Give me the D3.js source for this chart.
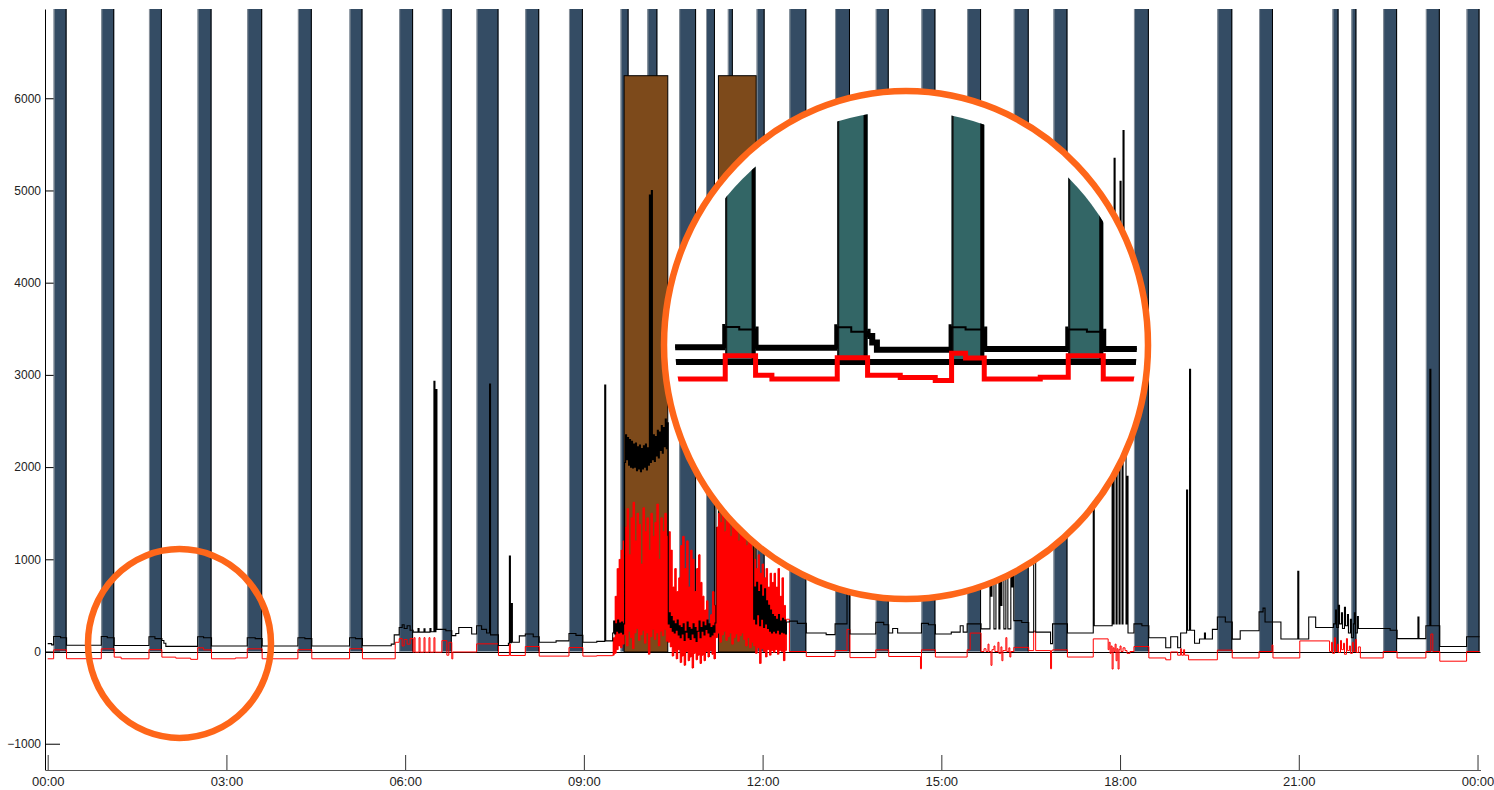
<!DOCTYPE html>
<head>
  <meta charset="utf-8" />
  <script src="https://cdn.jsdelivr.net/npm/d3@7"></script>
  <style>
    body { margin: 0; background: #fff; }
    svg { display: block; }
    text { font-family: "Liberation Sans", Arial, sans-serif; fill: #222; }
  </style>
</head>
<body>
  <svg width="1494" height="790"></svg>
  <script>
    // x in minutes of the day, y in watts
    const hourTicks = [0, 180, 360, 540, 720, 900, 1080, 1260, 1440];
    const hourLabels = ["00:00", "03:00", "06:00", "09:00", "12:00", "15:00", "18:00", "21:00", "00:00"];
    const powerTicks = [-1000, 0, 1000, 2000, 3000, 4000, 5000, 6000];

    // heat pump / fridge cycles (dark bars, full height)
    const cycleStart = [6, 54, 102, 151, 201, 252, 304, 354, 397, 432, 481, 525, 577, 604, 636, 663, 685, 714, 747,
      793, 834, 880, 926, 973, 1013, 1094, 1178, 1220, 1294, 1313, 1345, 1388, 1429];
    const cycleEnd = [19, 67, 115, 165, 216, 266, 317, 368, 407, 454, 495, 539, 585, 614, 653, 672, 690, 722, 764,
      808, 847, 894, 940, 988, 1027, 1109, 1193, 1234, 1300, 1318, 1359, 1402, 1442];

    // oven (brown bars)
    const ovenStart = [580, 675];
    const ovenEnd = [624, 713];
    const ovenLevel = 6250;

    // total consumption (black), [minute, W], step after
    const totalBase = [
      [0, 85], [4, 72], [6, 162], [13, 150], [19, 68],
      [54, 162], [60, 150], [67, 66],
      [102, 160], [108, 140], [115, 120], [117, 90], [119, 56],
      [151, 160], [157, 150], [165, 60],
      [201, 150], [209, 140], [216, 60],
      [252, 150], [259, 140], [266, 60],
      [304, 150], [310, 140], [317, 62],
      [346, 80], [349, 180], [354, 260], [357, 290], [359, 250], [362, 280], [365, 230], [368, 210],
      [373, 250], [374, 210], [379, 245], [380, 210], [385, 250], [386, 215],
      [389, 2930], [390, 215], [391, 2840], [392, 240],
      [401, 225], [407, 172], [411, 195], [414, 260], [427, 190],
      [432, 280], [437, 240], [442, 200], [445, 2900], [446, 180], [454, 65],
      [464, 90], [465, 1035], [466, 95], [467, 520], [468, 100], [475, 170],
      [481, 190], [489, 160], [495, 100], [512, 115],
      [525, 195], [532, 175], [539, 100], [553, 110], [561, 2890], [562, 115],
      [747, 330], [755, 305], [764, 200], [784, 183],
      [793, 300], [805, 1200], [808, 190],
      [834, 316], [842, 290], [847, 200], [851, 250], [856, 200],
      [880, 305], [887, 290], [894, 190], [910, 210], [919, 280], [922, 210],
      [926, 300], [940, 245],
      [949, 1900], [950, 600], [951, 2100], [953, 245], [955, 2300], [956, 900], [957, 2000], [958, 245],
      [959, 1700], [960, 500], [961, 2400], [963, 245], [965, 2600], [966, 800], [967, 245],
      [970, 2000], [971, 700], [972, 1800],
      [973, 335], [981, 315], [988, 210], [993, 1500], [995, 210], [1010, 85], [1012, 300], [1027, 200],
      [1053, 2750], [1054, 280],
      [1072, 2600], [1073, 300], [1074, 5350], [1075, 2300], [1076, 300], [1077, 2800], [1078, 2100], [1079, 300],
      [1080, 5100], [1081, 2600], [1082, 300], [1083, 5650], [1084, 2200], [1085, 2400], [1086, 300], [1087, 1900],
      [1088, 200],
      [1094, 300], [1102, 280], [1109, 150], [1126, 40], [1131, 160], [1138, 40], [1141, 200], [1147, 1750],
      [1148, 230], [1150, 3060], [1151, 230], [1155, 90], [1160, 135], [1165, 200], [1166, 135], [1173, 240],
      [1178, 375], [1186, 320], [1193, 134], [1201, 225],
      [1220, 430], [1224, 470], [1226, 320], [1242, 135], [1259, 870], [1260, 135], [1270, 375], [1277, 260],
      [1292, 260], [1295, 300], [1297, 450], [1298, 260], [1300, 500], [1301, 300], [1303, 420], [1304, 250],
      [1306, 480], [1307, 280], [1309, 400], [1310, 200], [1312, 350], [1313, 150], [1315, 300], [1316, 420],
      [1317, 200], [1319, 380], [1320, 250],
      [1345, 250], [1352, 230], [1359, 140], [1380, 375], [1381, 140],
      [1388, 280], [1392, 3060], [1393, 280], [1402, 55], [1429, 160], [1442, 160]
    ];

    // grid balance (red), [minute, W], step after
    const netBase = [
      [0, -79], [6, 18], [19, -78], [54, 29], [67, -61], [74, -79], [102, 20], [115, -61], [129, -72], [144, -85],
      [151, 40], [157, 18], [165, -79], [189, -70], [201, 29], [216, -79], [252, 20], [266, -79], [304, 30], [317, -79],
      [350, 100], [354, 140], [357, 60], [359, 130], [362, 80], [365, 140], [368, -7],
      [369, 150], [370, -7], [374, 150], [375, -7], [379, 150], [380, -7], [384, 150], [385, -7], [389, 150], [390, -7],
      [397, 118], [402, -40], [404, 100], [407, -80], [408, -5],
      [432, 83], [454, -43], [465, 80], [466, -43],
      [481, 54], [495, -50], [525, 43], [539, -50], [553, -45],
      [747, 0], [764, -54], [793, 10], [805, 240], [808, -66], [834, 18], [847, -54], [879, -187], [880, 18],
      [894, -60], [926, 18], [929, 200], [940, 0],
      [943, 30], [945, 0], [947, 80], [948, 0], [950, -150], [951, 20], [953, 60], [954, 0], [957, 100], [958, -20],
      [960, 50], [961, -100], [962, 10], [965, 150], [966, 0], [968, 40], [969, -60], [970, 0],
      [973, 45], [988, 10], [993, 220], [995, 10], [1010, -187], [1011, 10], [1012, 18], [1027, -60], [1053, 137],
      [1068, 20], [1069, 100], [1070, -20], [1071, 60], [1072, -190], [1073, 40], [1074, 0], [1075, 80], [1076, -100],
      [1077, 30], [1078, -190], [1079, 20], [1080, 60], [1081, 0], [1083, 40], [1085, 10], [1087, -20], [1090, 0],
      [1094, 54], [1109, -70], [1126, -90], [1131, -5], [1138, -40], [1141, 30], [1142, -40], [1144, 20], [1145, -40],
      [1149, -90], [1178, 15], [1193, -70], [1220, 0], [1233, 70], [1234, -70], [1261, 115],
      [1291, 0], [1293, 100], [1294, -20], [1296, 150], [1297, 0], [1299, 80], [1300, -10], [1302, 120], [1303, 20],
      [1305, 90], [1306, -30], [1308, 140], [1309, 10], [1311, 60], [1312, -20], [1314, 100], [1315, 0], [1317, 130],
      [1318, -10], [1320, 50], [1322, -70],
      [1345, 0], [1359, -70], [1388, 0], [1393, 190], [1395, 0], [1402, -105], [1429, 0], [1442, 0]
    ];

    // busy period 09:29-12:24: min/max of each 2 minute bucket
    const busyStart = 569;
    const busyStep = 2;
    const netBusyHi = [150, 600, 900, 1000, 1100, 1200,
      1350, 1550, 1050, 1450, 1620, 1200, 1500, 1380, 950, 1560, 1300, 1450, 1100, 1500, 1250, 1400, 1600, 1000, 1450, 1300, 1500, 1250,
      1300, 1100, 700, 900, 650, 800,
      1150, 1250, 900, 1200, 700, 1100, 1000, 650, 900, 1050, 750,
      600, 450, 550, 300, 400, 650, 500,
      1350, 1500, 1400, 1550, 1300, 1450, 1500, 1250, 1450, 1350, 1500, 1200, 1400, 1300, 1450, 1150, 1300, 1200, 1100,
      1000, 900, 1050, 850, 950, 800, 900, 700, 850, 750,
      850, 700, 900, 600, 800, 500, 350];
    const netBusyLo = [-40, -20, 20, 60, 40, 80,
      180, 60, 220, 150, 30, 200, 250, 120, 180, 230, 90, 200, -30, 160, 240, 130, 200, 60, 220, 170, 240, 110,
      100, 50, -50, 0, -80, 20,
      -120, -50, -150, 0, -100, -60, -180, -20, -90, -40, -130,
      -40, -100, 0, -60, 10, -30, -80,
      150, 200, 100, 180, 220, 120, 160, 200, 80, 150, 190, 110, 170, 200, 130, 60, 150, 40, 100,
      60, -20, 40, -130, 30, 0, -60, 20, -40, 10,
      -10, 20, -30, 10, 0, -100, 10];
    const totalBusyHi = [330, 300, 340, 310, 320, 300,
      2350, 2320, 2300, 2280, 2250, 2260, 2220, 2240, 2200, 2230, 2250, 2210, 4950, 5000, 2350, 2330, 2400, 2380, 2450, 2430, 2520, 2480,
      420, 380, 330, 300, 340, 280,
      260, 300, 220, 320, 260, 240, 300, 260, 220, 330, 260,
      320, 280, 340, 300, 260, 280, 310,
      2300, 2350, 2280, 2320, 2250, 2300, 2260, 2280, 2320, 2350, 2300, 2380, 2400, 2350, 2420, 2450, 2400, 2480, 2450,
      700, 750, 650, 720, 600, 680, 550, 500, 450, 400,
      380, 350, 400, 330, 360, 340, 320];
    const totalBusyLo = [200, 190, 220, 200, 210, 190,
      2050, 2080, 2020, 2000, 1990, 2000, 1960, 1980, 1950, 1980, 2000, 1970, 2020, 2050, 2080, 2060, 2120, 2100, 2180, 2150, 2220, 2200,
      300, 260, 220, 200, 230, 180,
      150, 190, 120, 210, 150, 130, 190, 150, 110, 220, 150,
      220, 180, 240, 200, 160, 180, 210,
      2050, 2100, 2020, 2080, 2000, 2050, 2020, 2060, 2080, 2100, 2050, 2120, 2150, 2100, 2180, 2200, 2150, 2220, 2200,
      350, 300, 400, 280, 350, 260, 300, 250, 220, 200,
      220, 200, 230, 190, 210, 200, 190];

    function withBusy(base, hi, lo) {
      const pts = base.slice();
      hi.forEach((h, i) => {
        const t = busyStart + i * busyStep;
        pts.push([t, lo[i]], [t + 1, h]);
      });
      return pts.sort((a, b) => a[0] - b[0]);
    }
    const total = withBusy(totalBase, totalBusyHi, totalBusyLo);
    const net = withBusy(netBase, netBusyHi, netBusyLo);
    const netBusy = netBusyHi.map((h, i) => ({ t: busyStart + i * busyStep, hi: h, lo: netBusyLo[i] }));
    const cycles = cycleStart.map((s, i) => ({ s, e: cycleEnd[i] }));
    const ovens = ovenStart.map((s, i) => ({ s, e: ovenEnd[i] }));

    const svg = d3.select("svg");
    const x = d3.scaleLinear().domain([-2.2, 1443]).range([45.5, 1480.5]);
    const y = d3.scaleLinear().domain([-1285, 6968]).range([770, 9]);
    const yTop = y.domain()[1];

    // axes
    const gx = svg.append("g").attr("transform", `translate(0,${y.range()[0]})`)
      .call(d3.axisBottom(x).tickValues(hourTicks).tickFormat((d, i) => hourLabels[i])
        .tickSizeInner(-15).tickSizeOuter(0));
    gx.select(".domain").attr("stroke", "#555");
    gx.selectAll(".tick line").attr("stroke", "#333");
    gx.selectAll("text").attr("y", 16).attr("dy", 0)
      .style("font-size", "13px").style("font-family", "Liberation Sans, Arial, sans-serif").attr("fill", "#222");

    const gy = svg.append("g").attr("transform", "translate(45,0)")
      .call(d3.axisLeft(y).tickValues(powerTicks).tickFormat(d3.format("d"))
        .tickSizeInner(-15).tickSizeOuter(0).tickPadding(4));
    gy.select(".domain").attr("stroke", "#000");
    gy.selectAll("text").style("font-size", "12px")
      .style("font-family", "Liberation Sans, Arial, sans-serif").attr("fill", "#222");

    function drawBars(g, xs, ys, fill, leftW, rightW) {
      g.selectAll("rect.cyc").data(cycles).join("rect").attr("class", "cyc")
        .attr("x", d => xs(d.s)).attr("width", d => xs(d.e) - xs(d.s))
        .attr("y", ys(yTop)).attr("height", ys(0) - ys(yTop))
        .attr("fill", fill);
      g.selectAll("line.cl").data(cycles).join("line").attr("class", "cl")
        .attr("x1", d => xs(d.s) + leftW / 2).attr("x2", d => xs(d.s) + leftW / 2)
        .attr("y1", ys(yTop)).attr("y2", ys(0))
        .attr("stroke", leftW > 1 ? "#111" : "#8a939c").attr("stroke-width", leftW);
      g.selectAll("line.cr").data(cycles).join("line").attr("class", "cr")
        .attr("x1", d => xs(d.e) - rightW / 2).attr("x2", d => xs(d.e) - rightW / 2)
        .attr("y1", ys(yTop)).attr("y2", ys(0))
        .attr("stroke", "#000").attr("stroke-width", rightW);
    }

    // main bars
    const gBars = svg.append("g");
    drawBars(gBars, x, y, "#344c64", 1, 1);

    svg.append("g").selectAll("rect").data(ovens).join("rect")
      .attr("x", d => x(d.s) + 0.5).attr("width", d => x(d.e) - x(d.s))
      .attr("y", y(ovenLevel) + 0.5).attr("height", y(0) - y(ovenLevel))
      .attr("fill", "#7d4a1b").attr("stroke", "#000").attr("stroke-width", 1);

    svg.append("line").attr("x1", x.range()[0]).attr("x2", x.range()[1])
      .attr("y1", Math.round(y(0)) + 0.5).attr("y2", Math.round(y(0)) + 0.5)
      .attr("stroke", "#000").attr("stroke-width", 1);

    // dense red period: bucket envelope filled, raw zigzag on top
    const busyArea = d3.area().x(d => x(d.t)).y0(d => y(d.lo)).y1(d => y(d.hi)).curve(d3.curveStepAfter);
    svg.append("path").datum(netBusy).attr("d", busyArea).attr("fill", "#ff0000");

    const line = d3.line().x(d => x(d[0])).y(d => y(d[1])).curve(d3.curveStepAfter);
    svg.append("path").datum(net).attr("d", line)
      .attr("fill", "none").attr("stroke", "#ff0000").attr("stroke-width", 1);
    svg.append("path").datum(total).attr("d", line)
      .attr("fill", "none").attr("stroke", "#000").attr("stroke-width", 1.1);

    // magnifier: small lens round 00:40-03:45, big lens shows it enlarged
    const zoomK = 2.35;
    const fromX = 179.5, fromY = y(0), toX = 909, toY = 362;
    const xi = d3.scaleLinear().domain(x.domain()).range(x.range().map(p => toX + (p - fromX) * zoomK));
    const yi = d3.scaleLinear().domain(y.domain()).range(y.range().map(p => toY + (p - fromY) * zoomK));

    svg.append("clipPath").attr("id", "lens")
      .append("circle").attr("cx", 906).attr("cy", 342).attr("r", 231);

    svg.append("ellipse").attr("cx", 906).attr("cy", 345).attr("rx", 242).attr("ry", 254)
      .attr("fill", "#fff");

    const gLens = svg.append("g").attr("clip-path", "url(#lens)");
    const lineI = d3.line().x(d => xi(d[0])).y(d => yi(d[1])).curve(d3.curveStepAfter);
    gLens.append("path").datum(total).attr("d", lineI)
      .attr("fill", "none").attr("stroke", "#000").attr("stroke-width", 6);
    drawBars(gLens.append("g"), xi, yi, "#336666", 2, 4);
    gLens.append("path").datum(total).attr("d", lineI)
      .attr("fill", "none").attr("stroke", "#000").attr("stroke-width", 2);
    gLens.append("line").attr("x1", 600).attr("x2", 1200)
      .attr("y1", yi(0)).attr("y2", yi(0)).attr("stroke", "#000").attr("stroke-width", 6);
    gLens.append("path").datum(net).attr("d", lineI)
      .attr("fill", "none").attr("stroke", "#ff0000").attr("stroke-width", 5);

    svg.append("ellipse").attr("cx", 906).attr("cy", 345).attr("rx", 242).attr("ry", 254)
      .attr("fill", "none").attr("stroke", "#fe6619").attr("stroke-width", 6.5);
    svg.append("ellipse").attr("cx", 179.5).attr("cy", 643.5).attr("rx", 91.5).attr("ry", 94.5)
      .attr("fill", "none").attr("stroke", "#fe6619").attr("stroke-width", 6.5);
  </script>
</body>
